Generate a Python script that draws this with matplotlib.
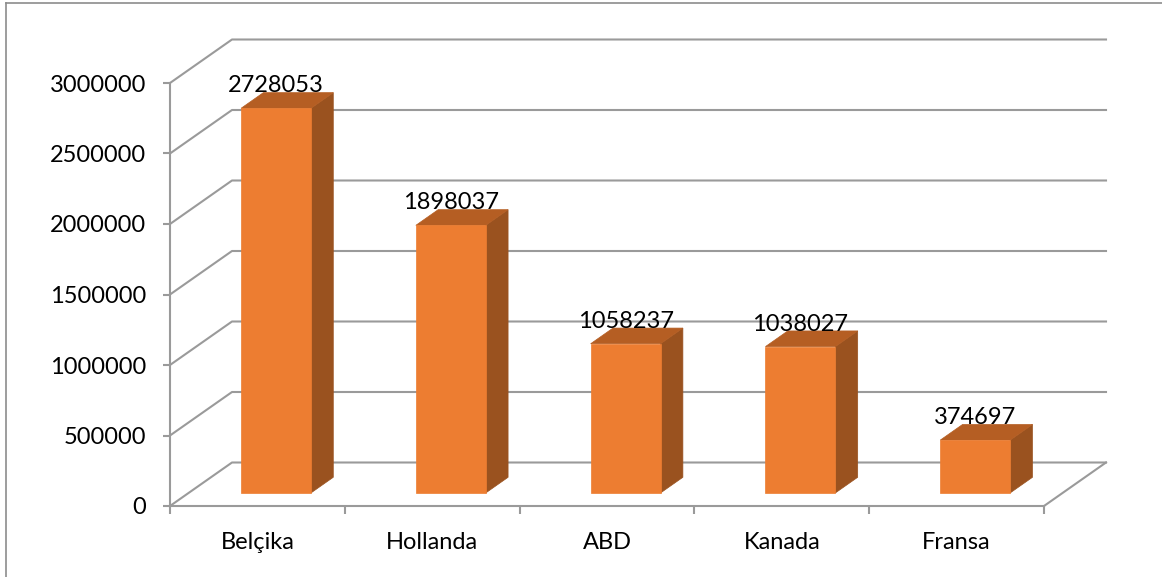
import matplotlib
matplotlib.use("Agg")
import matplotlib.pyplot as plt
from matplotlib.patches import Polygon
from matplotlib.lines import Line2D

# Data
countries = ["Belçika", "Hollanda", "ABD", "Kanada", "Fransa"]
values = [2728053, 1898037, 1058237, 1038027, 374697]
y_ticks = [0, 500000, 1000000, 1500000, 2000000, 2500000, 3000000]

# Styling
FRONT = "#ED7D31"
SIDE = "#9A521F"
TOP = "#B55E23"
GRID = "#9A9A9A"
plt.rcParams["font.family"] = ["Lato", "DejaVu Sans"]
FS = 17

W, H = 1162, 577
fig = plt.figure(figsize=(W / 100, H / 100), dpi=100)
fig.patch.set_facecolor("white")

# front plane of the 3D box in pixel terms
left_px, right_px, top_px, bot_px = 170, 1044, 83, 506
ax = fig.add_axes([left_px / W, 1 - bot_px / H,
                   (right_px - left_px) / W, (bot_px - top_px) / H])
ymax = y_ticks[-1]
ax.set_xlim(0, len(countries))
ax.set_ylim(0, ymax)
ax.patch.set_alpha(0)

# depth offset (oblique projection) in data units
px_per_cat = (right_px - left_px) / len(countries)
px_per_val = (bot_px - top_px) / ymax
DX = 62 / px_per_cat
DY = 43.5 / px_per_val


def proj(x, v, d):
    return (x + d * DX, v + d * DY)


# walls: gridlines on back wall and side wall
for t in y_ticks:
    xs = [0, DX, len(countries) + DX]
    ys = [t, t + DY, t + DY]
    ax.add_line(Line2D(xs, ys, color=GRID, lw=1.5, clip_on=False, zorder=1))
# floor right edge
ax.add_line(Line2D([len(countries), len(countries) + DX], [0, DY],
                   color=GRID, lw=1.5, clip_on=False, zorder=1))

# bars
bar_w = 0.4
d0, d1 = 0.30, 0.66
for i, v in enumerate(values):
    xc = i + 0.5
    xl, xr = xc - bar_w / 2, xc + bar_w / 2
    front = [proj(xl, 0, d0), proj(xr, 0, d0), proj(xr, v, d0), proj(xl, v, d0)]
    side = [proj(xr, 0, d0), proj(xr, 0, d1), proj(xr, v, d1), proj(xr, v, d0)]
    top = [proj(xl, v, d0), proj(xr, v, d0), proj(xr, v, d1), proj(xl, v, d1)]
    ax.add_patch(Polygon(side, closed=True, facecolor=SIDE, edgecolor=SIDE,
                         lw=0.5, clip_on=False, zorder=3))
    ax.add_patch(Polygon(top, closed=True, facecolor=TOP, edgecolor=TOP,
                         lw=0.5, clip_on=False, zorder=3))
    ax.add_patch(Polygon(front, closed=True, facecolor=FRONT, edgecolor=FRONT,
                         lw=0.5, clip_on=False, zorder=4))
    lx, ly = proj(xc, v, d1)
    ax.text(xc + d0 * DX, ly + 0.3 / px_per_val, str(v), ha="center",
            va="baseline", fontsize=FS, color="black", zorder=5)

# axes
for s in ["top", "right"]:
    ax.spines[s].set_visible(False)
for s in ["left", "bottom"]:
    ax.spines[s].set_color(GRID)
    ax.spines[s].set_linewidth(1.5)
ax.set_yticks(y_ticks)
ax.set_yticklabels([str(t) for t in y_ticks], fontsize=FS)
ax.tick_params(axis="y", length=5, width=1.5, color=GRID, pad=12)
ax.set_xticks(range(len(countries) + 1))
ax.set_xticklabels([])
ax.set_xticks([i + 0.5 for i in range(len(countries))], minor=True)
ax.set_xticklabels(countries, minor=True, fontsize=FS)
ax.tick_params(axis="x", which="major", length=5.5, width=1.5, color=GRID)
ax.tick_params(axis="x", which="minor", length=0, pad=18.5)

# chart area border
fig.add_artist(Line2D([5.5 / W, 5.5 / W], [0, 1 - 2.5 / H], color="#8C8C8C",
                      lw=1.2, transform=fig.transFigure))
fig.add_artist(Line2D([5.5 / W, 1], [1 - 2.5 / H, 1 - 2.5 / H], color="#8C8C8C",
                      lw=1.2, transform=fig.transFigure))

fig.savefig("out.png", dpi=100)
